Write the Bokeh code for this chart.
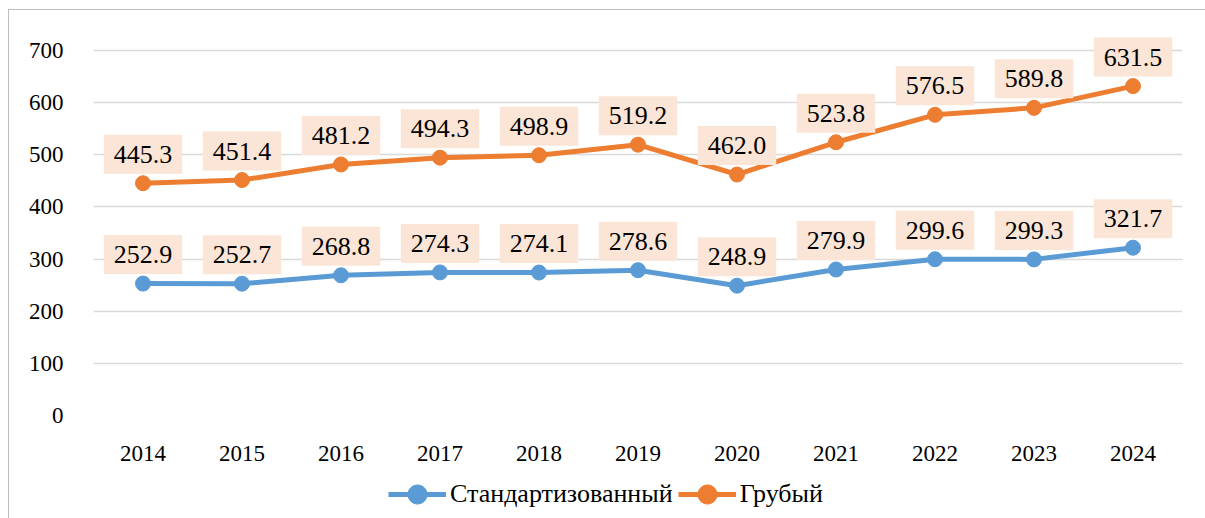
from bokeh.plotting import figure
from bokeh.layouts import column
from bokeh.models import ColumnDataSource, FixedTicker, Legend, LegendItem
from bokeh.core.properties import value
from bokeh.embed import file_html
from bokeh.resources import INLINE

years = [2014, 2015, 2016, 2017, 2018, 2019, 2020, 2021, 2022, 2023, 2024]
standardized = [252.9, 252.7, 268.8, 274.3, 274.1, 278.6, 248.9, 279.9, 299.6, 299.3, 321.7]
crude = [445.3, 451.4, 481.2, 494.3, 498.9, 519.2, 462.0, 523.8, 576.5, 589.8, 631.5]
y_ticks = [0, 100, 200, 300, 400, 500, 600, 700]
series_names = ["Стандартизованный", "Грубый"]

BLUE = "#5B9BD5"
ORANGE = "#ED7D31"
LABEL_BG = "#FBE5D6"
FONT = "Liberation Serif"
W = 1196

p = figure(width=W, height=460, output_backend="svg", toolbar_location=None,
           x_range=(2013.5, 2024.5), y_range=(0, 740),
           min_border_left=84, min_border_right=23, min_border_top=19,
           min_border_bottom=55)
p.outline_line_color = None
p.background_fill_color = "white"
p.border_fill_color = "white"

p.xgrid.grid_line_color = None
p.ygrid.grid_line_color = "#D9D9D9"
p.ygrid.grid_line_width = 1.3
p.yaxis.ticker = FixedTicker(ticks=y_ticks)
p.xaxis.ticker = FixedTicker(ticks=years)

for ax in (p.xaxis[0], p.yaxis[0]):
    ax.axis_line_color = None
    ax.major_tick_line_color = None
    ax.minor_tick_line_color = None
    ax.major_label_text_font = FONT
    ax.major_label_text_font_size = "23px"
    ax.major_label_text_color = "#000000"
    ax.major_label_standoff = 24

colors = [BLUE, ORANGE]
sources = []
for vals, color in zip((standardized, crude), colors):
    src = ColumnDataSource(dict(x=years, y=vals, lab=[f"{v:.1f}" for v in vals]))
    sources.append(src)
    p.line("x", "y", source=src, line_color=color, line_width=5)
    p.scatter("x", "y", source=src, size=15, fill_color=color, line_color=color)
    p.text("x", "y", text="lab", source=src, text_font=value(FONT),
           text_font_size="26px", text_align="center", text_baseline="middle",
           text_color="#000000", y_offset=-29,
           background_fill_color=LABEL_BG, padding=(10, 11))

# legend strip below the chart (its series renderers lie outside its own ranges)
lg = figure(width=W, height=48, output_backend="svg", toolbar_location=None,
            x_axis_type=None, y_axis_type=None, x_range=(0, 1), y_range=(0, 1),
            min_border=0)
lg.outline_line_color = None
lg.xgrid.grid_line_color = None
lg.ygrid.grid_line_color = None
items = []
for name, color, src in zip(series_names, colors, sources):
    r1 = lg.line("x", "y", source=src, line_color=color, line_width=5)
    r2 = lg.scatter("x", "y", source=src, size=19, fill_color=color, line_color=color)
    items.append(LegendItem(label=name, renderers=[r1, r2]))
legend = Legend(items=items, orientation="horizontal", location=(295, 0),
                label_text_font=FONT, label_text_font_size="26px",
                label_text_color="#000000",
                glyph_width=58, glyph_height=48, label_standoff=4, spacing=5,
                border_line_color=None, background_fill_alpha=0,
                padding=0, margin=0)
lg.add_layout(legend)

layout = column(p, lg, spacing=0, margin=(9, 0, 0, 8),
                styles={"border-left": "1px solid #BFBFBF",
                        "border-top": "1px solid #BFBFBF"})

open("out.html", "w").write(file_html(layout, INLINE))
